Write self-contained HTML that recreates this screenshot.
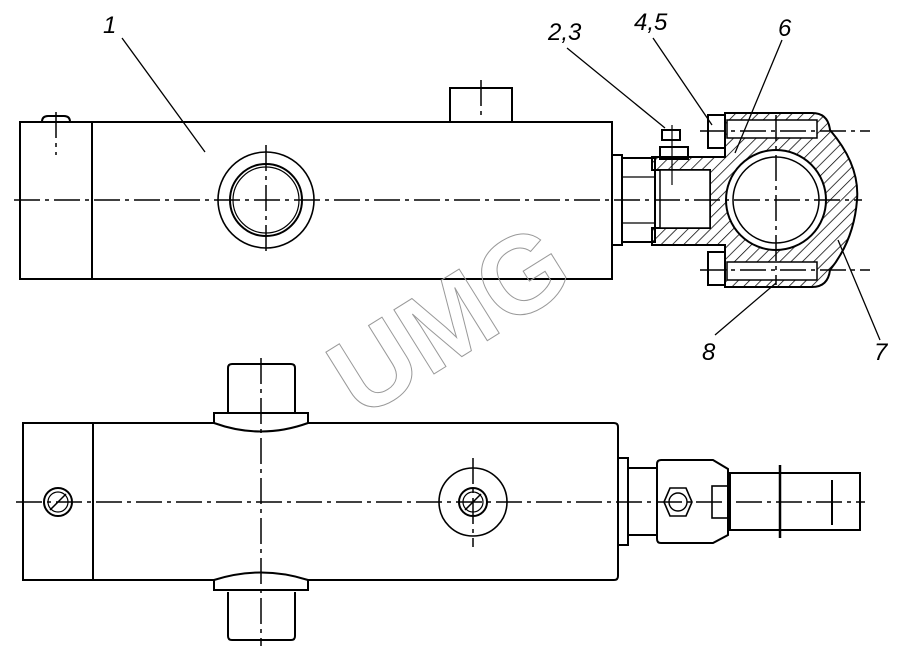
<!DOCTYPE html>
<html><head><meta charset="utf-8"><style>html,body{margin:0;padding:0;background:#fff}svg{display:block}</style></head><body>
<svg width="900" height="652" viewBox="0 0 900 652" xmlns="http://www.w3.org/2000/svg">
<defs>
<pattern id="h" width="8" height="8" patternUnits="userSpaceOnUse" patternTransform="rotate(45)"><line x1="0" y1="0" x2="0" y2="8" stroke="#000" stroke-width="1.5"/></pattern>
</defs>
<g fill="none" stroke="#000" stroke-width="2">
<rect x="20" y="122" width="592" height="157" fill="#fff"/>
<line x1="92" y1="122" x2="92" y2="279"/>
<rect x="450" y="88" width="62" height="34"/>
<path d="M42 122 q0-6 6-6 h16 q6 0 6 6"/>
<circle cx="266" cy="200" r="48" stroke-width="1.6"/>
<circle cx="266" cy="200" r="36"/>
<circle cx="266" cy="200" r="33" stroke-width="1.2"/>
<rect x="612" y="155" width="10" height="90"/>
<rect x="622" y="158" width="33" height="84"/>
<line x1="622" y1="177" x2="655" y2="177" stroke-width="1.2"/>
<line x1="622" y1="223" x2="655" y2="223" stroke-width="1.2"/>
<path d="M725 113 H812 Q828 113 830 130 Q860 165 857 200 Q854 240 830 270 Q828 287 812 287 H725 V245 H652 V228 H710 V170 H652 V157 H725 Z" fill="url(#h)"/>
<circle cx="776" cy="200" r="50" fill="#fff"/>
<circle cx="776" cy="200" r="43" stroke-width="1.5"/>
<rect x="660" y="170" width="50" height="58" fill="#fff" stroke-width="1.5"/>
<rect x="727" y="120" width="90" height="18" fill="#fff" stroke-width="1.5"/>
<rect x="727" y="262" width="90" height="18" fill="#fff" stroke-width="1.5"/>
<rect x="708" y="115" width="17" height="33" fill="#fff"/>
<rect x="708" y="252" width="17" height="33" fill="#fff"/>
<rect x="662" y="130" width="18" height="10"/>
<rect x="660" y="147" width="28" height="12"/>
<line x1="672" y1="125" x2="672" y2="185" stroke-width="1.2"/>
<path d="M23 423 H614 q4 0 4 4 V576 q0 4-4 4 H23 Z" fill="#fff"/>
<line x1="93" y1="423" x2="93" y2="580"/>
<path d="M228 412 V368 q0-4 4-4 H291 q4 0 4 4 V412"/>
<path d="M214 413 H308 V423 Q261 440 214 423 Z" fill="#fff"/>
<path d="M214 590 H308 V580 Q261 565 214 580 Z" fill="#fff"/>
<path d="M228 592 V636 q0 4 4 4 H291 q4 0 4-4 V592"/>
<circle cx="58" cy="502" r="14"/><circle cx="58" cy="502" r="10" stroke-width="1.2"/>
<line x1="50" y1="510" x2="66" y2="494" stroke-width="1.5"/>
<circle cx="473" cy="502" r="34" stroke-width="1.6"/>
<circle cx="473" cy="502" r="14"/><circle cx="473" cy="502" r="10" stroke-width="1.2"/>
<line x1="465" y1="510" x2="481" y2="494" stroke-width="1.5"/>
<rect x="618" y="458" width="10" height="87"/>
<rect x="628" y="468" width="29" height="67"/>
<path d="M657 464 q0-4 4-4 H713 L728 469 V535 L713 543 H661 q-4 0-4-4 Z"/>
<rect x="730" y="473" width="130" height="57"/>
<line x1="780" y1="465" x2="780" y2="538" stroke-width="2.5"/>
<line x1="832" y1="480" x2="832" y2="525"/>
<polygon points="670,488 686,488 692,502 686,516 670,516 664,502" stroke-width="1.6"/>
<circle cx="678" cy="502" r="9" stroke-width="1.4"/>
<rect x="712" y="486" width="16" height="32" stroke-width="1.6"/>
</g>
<g stroke="#000" stroke-width="1.5" stroke-dasharray="26,5,4,5" fill="none">
<line x1="14" y1="200" x2="862" y2="200"/>
<line x1="16" y1="502" x2="865" y2="502"/>
<line x1="261" y1="358" x2="261" y2="646"/>
<line x1="266" y1="145" x2="266" y2="255"/>
<line x1="776" y1="115" x2="776" y2="285"/>
<line x1="473" y1="458" x2="473" y2="547"/>
<line x1="56" y1="112" x2="56" y2="155"/>
<line x1="481" y1="80" x2="481" y2="120"/>
<line x1="700" y1="131" x2="870" y2="131"/>
<line x1="700" y1="270" x2="870" y2="270"/>
</g>
<g stroke="#000" stroke-width="1.3">
<line x1="122" y1="38" x2="205" y2="152"/>
<line x1="567" y1="48" x2="665" y2="128"/>
<line x1="653" y1="38" x2="712" y2="125"/>
<line x1="782" y1="40" x2="735" y2="153"/>
<line x1="715" y1="335" x2="776" y2="283"/>
<line x1="880" y1="340" x2="838" y2="240"/>
</g>
<g font-family="Liberation Sans, sans-serif" font-style="italic" font-size="24" fill="#000">
<text x="103" y="33">1</text>
<text x="548" y="40">2,3</text>
<text x="634" y="30">4,5</text>
<text x="778" y="36">6</text>
<text x="702" y="360">8</text>
<text x="874" y="360">7</text>
</g>
<text x="448" y="358" font-family="Liberation Sans, sans-serif" font-weight="bold" font-size="110" fill="none" stroke="#999" stroke-width="1" text-anchor="middle" transform="rotate(-32 448 318)">UMG</text>
</svg>
</body></html>
